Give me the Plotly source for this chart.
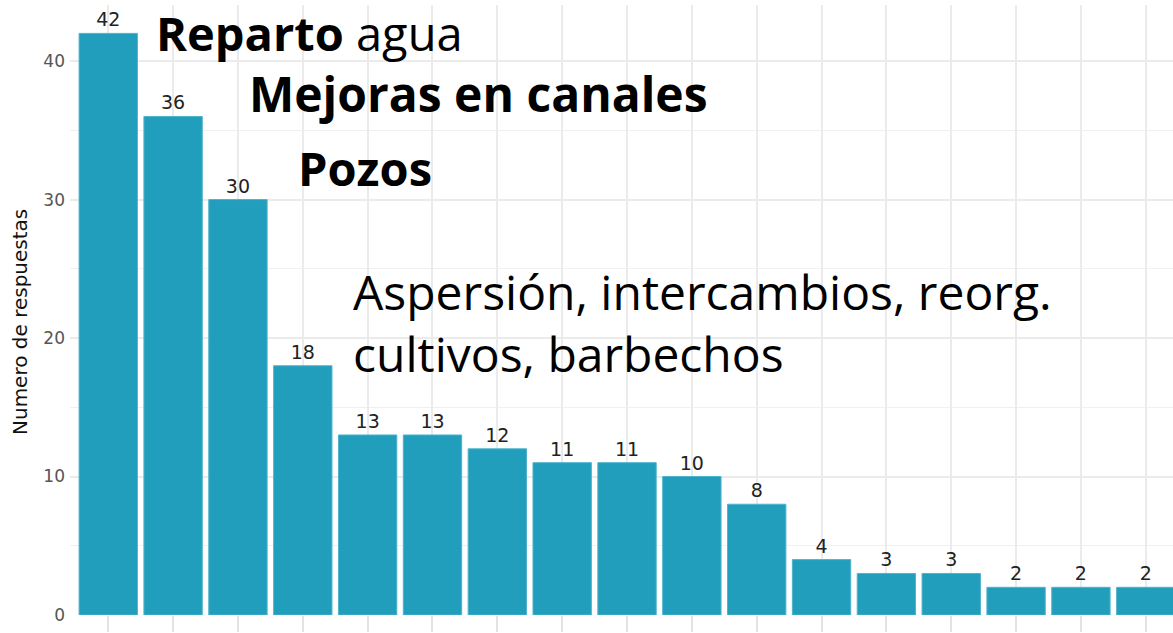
import plotly.graph_objects as go

categories = [f"c{i}" for i in range(1, 18)]
values = [42, 36, 30, 18, 13, 13, 12, 11, 11, 10, 8, 4, 3, 3, 2, 2, 2]
y_ticks = [0, 10, 20, 30, 40]

W, H = 1173, 633
L, R, T, B = 70, 0, 5, 18
pw, ph = W - L - R, H - T - B

def px(x):
    return (x - L) / pw

def py(y):
    return (H - B - y) / ph

fig = go.Figure(go.Bar(
    x=categories, y=values, width=0.9,
    marker=dict(color="#219EBC", line=dict(color="#4FB3CC", width=1)),
    text=values, textposition="outside", cliponaxis=False,
    textfont=dict(family="DejaVu Sans", size=19, color="#222222"),
))

font_ann = "Open Sans"
anns = [
    dict(x=px(154), y=py(33), text="<b>Reparto</b> agua", size=47),
    dict(x=px(247), y=py(94), text="<b>Mejoras en canales</b>", size=48),
    dict(x=px(296), y=py(168), text="<b>Pozos</b>", size=47),
    dict(x=px(351), y=py(322), text="Aspersión, intercambios, reorg.<br>cultivos, barbechos", size=48),
]
for a in anns:
    fig.add_annotation(x=a["x"], y=a["y"], xref="paper", yref="paper", text=a["text"],
                       showarrow=False, xanchor="left", yanchor="middle", align="left",
                       font=dict(family=font_ann, size=a["size"], color="#000000"))

# y-axis title placed as rotated text
fig.add_annotation(x=px(20), y=py(322), xref="paper", yref="paper", text="Numero de respuestas",
                   textangle=-90, showarrow=False, xanchor="center", yanchor="middle",
                   font=dict(family="DejaVu Sans", size=20, color="#111111"))

fig.update_layout(
    width=W, height=H, margin=dict(l=L, r=R, t=T, b=B),
    plot_bgcolor="white", paper_bgcolor="white", showlegend=False, bargap=0.1,
    xaxis=dict(range=[-0.59, 16.42], showticklabels=False, ticks="outside", ticklen=16,
               tickcolor="#e3e3e3", tickwidth=1.5, showgrid=True, gridcolor="#ebebeb",
               gridwidth=1.5, zeroline=False, showline=False, automargin=False),
    yaxis=dict(range=[0, 44.05], tickvals=y_ticks, showgrid=True, gridcolor="#ebebeb",
               gridwidth=1.5, zeroline=False, showline=False, automargin=False,
               ticklabelstandoff=4,
               minor=dict(dtick=5, showgrid=True, gridcolor="#f0f0f0", gridwidth=1),
               tickfont=dict(family="DejaVu Sans", size=17, color="#555555")),
)

fig.write_html("out.html", config={"displayModeBar": False},
               post_script="document.body.style.margin='0';document.body.style.padding='0';")
